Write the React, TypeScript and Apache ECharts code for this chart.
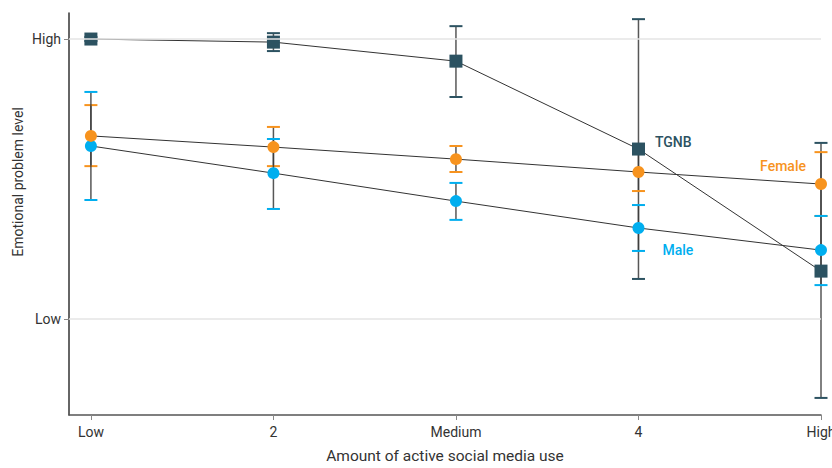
import React, { useEffect, useRef } from "react";
import * as echarts from "echarts";

const categories = ["Low", "2", "Medium", "4", "High"];
const yTickLabels: Record<number, string> = { 0: "Low", 1: "High" };

// values on a scale where Low = 0 and High = 1
const tgnbMean = [1.0, 0.989, 0.921, 0.607, 0.171];
const tgnbLow = [0.993, 0.957, 0.793, 0.143, -0.282];
const tgnbHigh = [1.007, 1.021, 1.046, 1.071, 0.629];

const femaleMean = [0.654, 0.614, 0.571, 0.525, 0.482];
const femaleLow = [0.546, 0.546, 0.525, 0.457, 0.368];
const femaleHigh = [0.764, 0.686, 0.618, 0.596, 0.596];

const maleMean = [0.618, 0.521, 0.421, 0.325, 0.246];
const maleLow = [0.425, 0.393, 0.354, 0.243, 0.121];
const maleHigh = [0.811, 0.643, 0.486, 0.407, 0.368];

const C_TGNB = "#2c5261";
const C_FEMALE = "#f7931e";
const C_MALE = "#00aeef";
const FONT = "Roboto, 'Noto Sans', sans-serif";

function errSeries(name: string, lo: number[], hi: number[], color: string) {
  return {
    type: "custom",
    name: name + "-err",
    z: 1,
    silent: true,
    clip: false,
    encode: { x: 0, y: [1, 2] },
    data: lo.map((l, i) => [i, l, hi[i]]),
    renderItem: (params: any, api: any) => {
      const x = api.value(0);
      const pLo = api.coord([x, api.value(1)]);
      const pHi = api.coord([x, api.value(2)]);
      const w = 6.5;
      return {
        type: "group",
        children: [
          {
            type: "line",
            shape: { x1: pLo[0], y1: pLo[1], x2: pHi[0], y2: pHi[1] },
            style: { stroke: "#3a3a3a", lineWidth: 1.5, opacity: 0.85 },
          },
          {
            type: "line",
            shape: { x1: pLo[0] - w, y1: pLo[1], x2: pLo[0] + w, y2: pLo[1] },
            style: { stroke: color, lineWidth: 2 },
          },
          {
            type: "line",
            shape: { x1: pHi[0] - w, y1: pHi[1], x2: pHi[0] + w, y2: pHi[1] },
            style: { stroke: color, lineWidth: 2 },
          },
        ],
      };
    },
  };
}

function lineSeries(
  name: string,
  mean: number[],
  color: string,
  symbol: string,
  size: number,
  labelIdx: number,
  labelCfg: any
) {
  return {
    type: "line",
    name,
    z: 3,
    symbol,
    symbolSize: size,
    clip: false,
    lineStyle: { color: "#333333", width: 1 },
    itemStyle: { color, opacity: 1 },
    data: mean.map((v, i) =>
      i === labelIdx
        ? {
            value: [i, v],
            label: {
              show: true,
              formatter: name,
              color,
              fontFamily: FONT,
              fontSize: 14,
              fontWeight: 500,
              ...labelCfg,
            },
          }
        : { value: [i, v] }
    ),
  };
}

export default function App() {
  const ref = useRef<HTMLDivElement>(null);
  useEffect(() => {
    if (!ref.current) return;
    const chart = echarts.init(ref.current, undefined, { renderer: "svg" });
    chart.setOption({
      animation: false,
      backgroundColor: "#ffffff",
      grid: {
        left: 69,
        right: 11,
        top: 13,
        bottom: 53,
        containLabel: false,
        outerBoundsMode: "none",
      },
      xAxis: {
        type: "value",
        min: -0.12,
        max: 4,
        name: "Amount of active social media use",
        nameLocation: "middle",
        nameGap: 33,
        nameTextStyle: { color: "#333", fontSize: 15.5, fontFamily: FONT },
        axisLine: { show: true, onZero: false, lineStyle: { color: "#555", width: 1.5 } },
        axisTick: {
          show: true,
          customValues: [0, 1, 2, 3, 4],
          length: 5,
          lineStyle: { color: "#888", width: 1 },
        },
        axisLabel: {
          customValues: [0, 1, 2, 3, 4],
          formatter: (v: number) => categories[Math.round(v)] ?? "",
          color: "#333",
          fontSize: 14,
          fontFamily: FONT,
          margin: 10,
        },
        splitLine: { show: false },
      },
      yAxis: {
        type: "value",
        min: -0.343,
        max: 1.093,
        axisLine: { show: true, onZero: false, lineStyle: { color: "#333", width: 1.5 } },
        axisTick: {
          show: true,
          customValues: [0, 1],
          length: 5,
          lineStyle: { color: "#888", width: 1 },
        },
        axisLabel: {
          customValues: [0, 1],
          formatter: (v: number) => yTickLabels[Math.round(v)] ?? "",
          color: "#333",
          fontSize: 14,
          fontFamily: FONT,
          margin: 8,
        },
        splitLine: { show: false },
      },
      graphic: [
        {
          type: "text",
          x: 18,
          y: 182,
          rotation: Math.PI / 2,
          style: {
            text: "Emotional problem level",
            fill: "#333",
            fontSize: 14,
            fontFamily: FONT,
            align: "center",
            verticalAlign: "middle",
          },
        },
      ],
      series: [
        {
          type: "line",
          name: "grid",
          data: [],
          silent: true,
          z: 0,
          markLine: {
            silent: true,
            symbol: "none",
            label: { show: false },
            lineStyle: { color: "#e4e4e4", width: 1.5, type: "solid" },
            data: [{ yAxis: 0 }, { yAxis: 1 }],
          },
        },
        errSeries("TGNB", tgnbLow, tgnbHigh, C_TGNB),
        errSeries("Female", femaleLow, femaleHigh, C_FEMALE),
        errSeries("Male", maleLow, maleHigh, C_MALE),
        lineSeries("Male", maleMean, C_MALE, "circle", 12, 3, {
          position: "right",
          distance: 18,
          offset: [0, 22],
        }),
        lineSeries("Female", femaleMean, C_FEMALE, "circle", 12, 4, {
          position: "left",
          distance: 9,
          offset: [0, -18],
        }),
        lineSeries("TGNB", tgnbMean, C_TGNB, "rect", 13, 3, {
          position: "right",
          distance: 10,
          offset: [0, -7],
        }),
      ],
    });
    return () => chart.dispose();
  }, []);
  return <div ref={ref} style={{ width: 832, height: 468, position: "absolute", left: 0, top: 0 }} />;
}
